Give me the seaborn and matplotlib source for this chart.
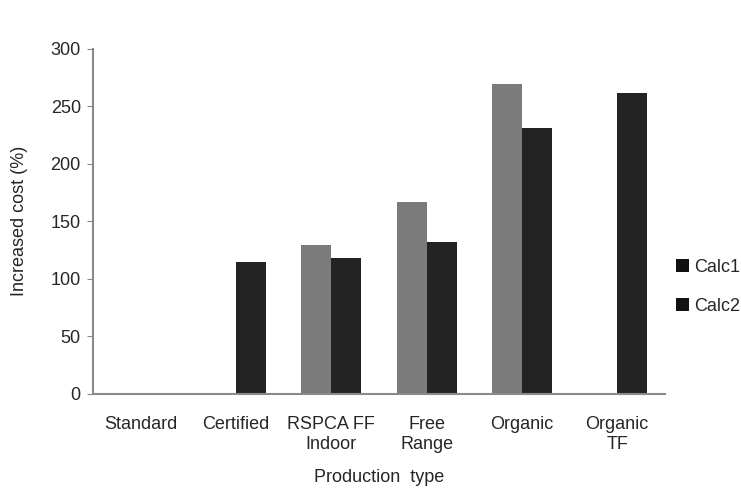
import matplotlib

matplotlib.use("Agg")
import matplotlib.pyplot as plt
import pandas as pd
import seaborn as sns

categories = ["Standard", "Certified", "RSPCA FF\nIndoor", "Free\nRange", "Organic", "Organic\nTF"]
calc1 = [0, 0, 129, 167, 269, 0]
calc2 = [0, 115, 118, 132, 231, 262]
series = ["Calc1", "Calc2"]
y_ticks = [0, 50, 100, 150, 200, 250, 300]

df = pd.DataFrame({
    "type": categories * 2,
    "cost": calc1 + calc2,
    "series": [series[0]] * len(categories) + [series[1]] * len(categories),
})

sns.set_style("white")
plt.rcParams["font.family"] = ["Liberation Sans", "DejaVu Sans"]

fig = plt.figure(figsize=(7.41, 4.88), dpi=100)
ax = fig.add_axes([0.126, 0.193, 0.771, 0.707])

sns.barplot(data=df, x="type", y="cost", hue="series", order=categories,
            palette=["#7b7b7b", "#232323"], width=0.63, saturation=1,
            linewidth=0, ax=ax, legend=True)

ax.set_ylim(0, 300)
ax.set_yticks(y_ticks)
ax.set_xlim(-0.5, len(categories) - 0.5)
ax.tick_params(axis="y", length=4, color="#888888", labelsize=13, pad=5, left=True)
ax.tick_params(axis="x", length=0, labelsize=13, pad=16)
for s in ["top", "right"]:
    ax.spines[s].set_visible(False)
for s in ["left", "bottom"]:
    ax.spines[s].set_color("#8a8a8a")
    ax.spines[s].set_linewidth(1.5)

ax.set_xlabel("Production  type", fontsize=13, labelpad=12)
ax.set_ylabel("Increased cost (%)", fontsize=13, labelpad=16)

# the source legend draws both keys in black
handles, labels = ax.get_legend_handles_labels()
for h in handles:
    h.set_facecolor("#111111")
ax.legend(handles, labels, loc="center left", bbox_to_anchor=(1.0, 0.31),
          frameon=False, fontsize=13, handlelength=0.75, handleheight=0.75,
          handletextpad=0.3, labelspacing=1.2, borderaxespad=0.2)

fig.savefig("out.png", dpi=100)
